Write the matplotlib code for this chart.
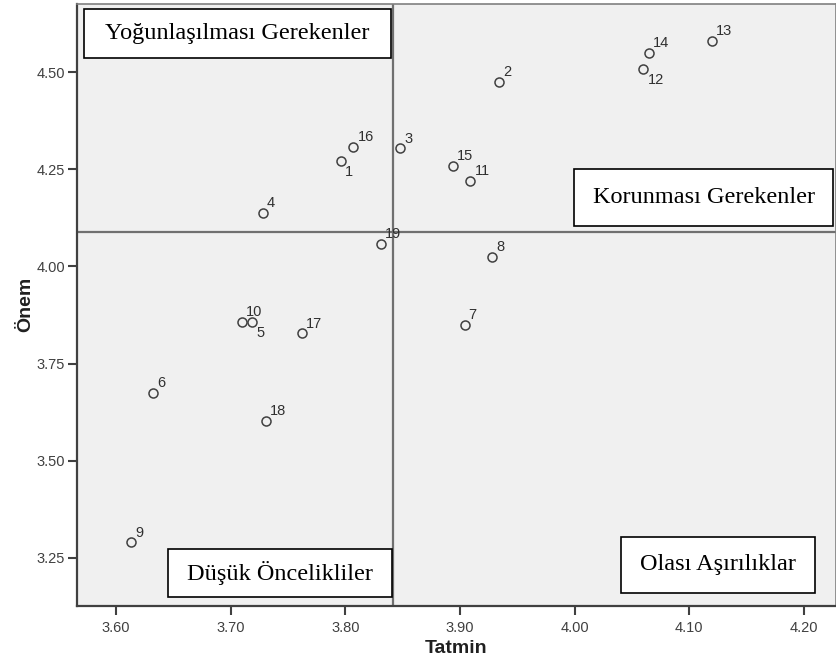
import matplotlib
matplotlib.use('Agg')
import matplotlib.pyplot as plt
from matplotlib.patches import Rectangle

# Tatmin (satisfaction) vs Önem (importance) per item
labels = ['1', '2', '3', '4', '5', '6', '7', '8', '9', '10',
          '11', '12', '13', '14', '15', '16', '17', '18', '19']
tatmin = [3.796, 3.934, 3.848, 3.728, 3.719, 3.632, 3.904, 3.928, 3.613, 3.710,
          3.909, 4.060, 4.120, 4.065, 3.894, 3.807, 3.762, 3.731, 3.831]
onem = [4.272, 4.475, 4.304, 4.137, 3.858, 3.675, 3.850, 4.024, 3.290, 3.857,
        4.220, 4.508, 4.581, 4.549, 4.258, 4.307, 3.828, 3.603, 4.059]
below_labels = ['1', '5', '12']

mean_tatmin = 3.8415
mean_onem = 4.0886

xticks = [3.60, 3.70, 3.80, 3.90, 4.00, 4.10, 4.20]
yticks = [3.25, 3.50, 3.75, 4.00, 4.25, 4.50]

quadrants = [
    ('Yoğunlaşılması Gerekenler', 0.0092, 0.909, 0.4133, 0.9914),
    ('Korunması Gerekenler', 0.6552, 0.6312, 0.9964, 0.7248),
    ('Düşük Öncelikliler', 0.1203, 0.0144, 0.4146, 0.0941),
    ('Olası Aşırılıklar', 0.7163, 0.0221, 0.9727, 0.1140),
]

fig = plt.figure(figsize=(8.37, 6.68), dpi=100)
ax = fig.add_axes([77 / 837, 1 - 606 / 668, 759 / 837, 602.5 / 668])
ax.set_facecolor('#f0f0f0')

ax.axvline(mean_tatmin, color='#707070', lw=1.6, zorder=1)
ax.axhline(mean_onem, color='#707070', lw=1.6, zorder=1)

ax.plot(tatmin, onem, 'o', ms=6.5, mfc='none', mec='#404040', mew=1.1, zorder=3)

for lab, x, y in zip(labels, tatmin, onem):
    if lab in below_labels:
        ax.annotate(lab, (x, y), xytext=(3, -3), textcoords='offset points',
                    ha='left', va='top', fontsize=10.5, color='#303030',
                    family='Liberation Sans', zorder=4)
    else:
        ax.annotate(lab, (x, y), xytext=(3, 2), textcoords='offset points',
                    ha='left', va='bottom', fontsize=10.5, color='#303030',
                    family='Liberation Sans', zorder=4)

for text, x0, y0, x1, y1 in quadrants:
    ax.add_patch(Rectangle((x0, y0), x1 - x0, y1 - y0, transform=ax.transAxes,
                           facecolor='white', edgecolor='black', lw=1.2, zorder=5))
    ax.text((x0 + x1) / 2, (y0 + y1) / 2, text, transform=ax.transAxes,
            ha='center', va='center', fontsize=17.5, family='Liberation Serif',
            zorder=6)

ax.set_xlim(3.566, 4.228)
ax.set_ylim(3.126, 4.677)
ax.set_xticks(xticks)
ax.set_xticklabels([f'{t:.2f}' for t in xticks])
ax.set_yticks(yticks)
ax.set_yticklabels([f'{t:.2f}' for t in yticks])
ax.tick_params(direction='out', length=6.5, width=1.5, color='#404040',
               labelsize=10.5, labelcolor='#404040')
ax.tick_params(axis='y', pad=2)
ax.tick_params(axis='x', pad=4)
for lab in ax.get_xticklabels() + ax.get_yticklabels():
    lab.set_family('Liberation Sans')

for side in ['left', 'bottom']:
    ax.spines[side].set_color('#404040')
    ax.spines[side].set_linewidth(1.6)
for side in ['top', 'right']:
    ax.spines[side].set_color('#808080')
    ax.spines[side].set_linewidth(1.2)

ax.set_xlabel('Tatmin', fontsize=14, fontweight='bold', family='Liberation Sans',
              color='#202020', labelpad=4)
ax.set_ylabel('Önem', fontsize=14, fontweight='bold', family='Liberation Sans',
              color='#202020', labelpad=2)

fig.savefig('out.png', dpi=100)
